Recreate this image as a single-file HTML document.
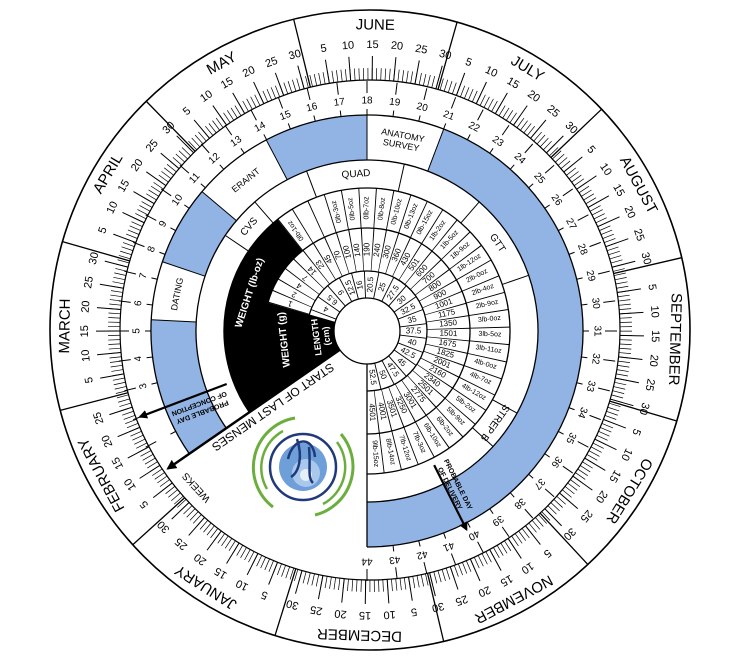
<!DOCTYPE html>
<html><head><meta charset="utf-8"><style>
html,body{margin:0;padding:0;background:#fff;}
svg{display:block;font-family:"Liberation Sans",sans-serif;}
.r{text-anchor:middle;dominant-baseline:central;font-size:8px;}
.w{text-anchor:middle;dominant-baseline:central;font-size:10px;}
.m{text-anchor:middle;dominant-baseline:central;font-size:15px;}
.dn{text-anchor:middle;dominant-baseline:central;font-size:11px;}
.t{text-anchor:middle;dominant-baseline:central;font-size:9px;}
</style></head><body>
<svg width="745" height="658" viewBox="0 0 745 658" xmlns="http://www.w3.org/2000/svg">
<defs>
<marker id="ah" viewBox="0 0 10 10" refX="8" refY="5" markerWidth="4" markerHeight="4" orient="auto"><path d="M0 0L10 5L0 10z" fill="#000"/></marker>
<g id="L5" stroke="#000" stroke-width="1">
<path d="M370 80V56" transform="rotate(3.945 370 330)"/>
<path d="M370 80V56" transform="rotate(8.877 370 330)"/>
<path d="M370 80V56" transform="rotate(13.808 370 330)"/>
<path d="M370 80V56" transform="rotate(18.74 370 330)"/>
<path d="M370 80V56" transform="rotate(23.671 370 330)"/>
</g>
<path id="L30" d="M370 80V56" stroke="#000" stroke-width="1" transform="rotate(28.603 370 330)"/>
<path id="DV" d="M370 80V10" stroke="#000" stroke-width="1.3" transform="rotate(-0.49 370 330)"/>
</defs>
<rect width="745" height="658" fill="#fff"/>
<!-- outer dial -->
<circle cx="370" cy="330" r="320" fill="#fff" stroke="#000" stroke-width="1.6"/>
<circle cx="370" cy="330" r="256" fill="none" stroke="#000" stroke-width="12" stroke-dasharray="0.7 3.7068" transform="rotate(-89.59 370 330)"/>
<circle cx="370" cy="330" r="250" fill="#fff" stroke="#000" stroke-width="1.2"/>

<g transform="rotate(-162.24 370 330)"><use href="#DV"/><use href="#L5"/><use href="#L30"/>
<text class="dn" x="370" y="45" transform="rotate(3.945 370 330)">5</text><text class="dn" x="370" y="45" transform="rotate(8.877 370 330)">10</text><text class="dn" x="370" y="45" transform="rotate(13.808 370 330)">15</text><text class="dn" x="370" y="45" transform="rotate(18.74 370 330)">20</text><text class="dn" x="370" y="45" transform="rotate(23.671 370 330)">25</text><text class="dn" x="370" y="45" transform="rotate(28.603 370 330)">30</text>
<text class="m" x="370" y="25" transform="rotate(14.79 370 330)">JANUARY</text></g>
<g transform="rotate(-131.66 370 330)"><use href="#DV"/><use href="#L5"/>
<text class="dn" x="370" y="45" transform="rotate(3.945 370 330)">5</text><text class="dn" x="370" y="45" transform="rotate(8.877 370 330)">10</text><text class="dn" x="370" y="45" transform="rotate(13.808 370 330)">15</text><text class="dn" x="370" y="45" transform="rotate(18.74 370 330)">20</text><text class="dn" x="370" y="45" transform="rotate(23.671 370 330)">25</text>
<text class="m" x="370" y="25" transform="rotate(13.32 370 330)">FEBRUARY</text></g>
<g transform="rotate(-104.05 370 330)"><use href="#DV"/><use href="#L5"/><use href="#L30"/>
<text class="dn" x="370" y="45" transform="rotate(3.945 370 330)">5</text><text class="dn" x="370" y="45" transform="rotate(8.877 370 330)">10</text><text class="dn" x="370" y="45" transform="rotate(13.808 370 330)">15</text><text class="dn" x="370" y="45" transform="rotate(18.74 370 330)">20</text><text class="dn" x="370" y="45" transform="rotate(23.671 370 330)">25</text><text class="dn" x="370" y="45" transform="rotate(28.603 370 330)">30</text>
<text class="m" x="370" y="25" transform="rotate(14.79 370 330)">MARCH</text></g>
<g transform="rotate(-73.47 370 330)"><use href="#DV"/><use href="#L5"/><use href="#L30"/>
<text class="dn" x="370" y="45" transform="rotate(3.945 370 330)">5</text><text class="dn" x="370" y="45" transform="rotate(8.877 370 330)">10</text><text class="dn" x="370" y="45" transform="rotate(13.808 370 330)">15</text><text class="dn" x="370" y="45" transform="rotate(18.74 370 330)">20</text><text class="dn" x="370" y="45" transform="rotate(23.671 370 330)">25</text><text class="dn" x="370" y="45" transform="rotate(28.603 370 330)">30</text>
<text class="m" x="370" y="25" transform="rotate(14.30 370 330)">APRIL</text></g>
<g transform="rotate(-43.88 370 330)"><use href="#DV"/><use href="#L5"/><use href="#L30"/>
<text class="dn" x="370" y="45" transform="rotate(3.945 370 330)">5</text><text class="dn" x="370" y="45" transform="rotate(8.877 370 330)">10</text><text class="dn" x="370" y="45" transform="rotate(13.808 370 330)">15</text><text class="dn" x="370" y="45" transform="rotate(18.74 370 330)">20</text><text class="dn" x="370" y="45" transform="rotate(23.671 370 330)">25</text><text class="dn" x="370" y="45" transform="rotate(28.603 370 330)">30</text>
<text class="m" x="370" y="25" transform="rotate(14.79 370 330)">MAY</text></g>
<g transform="rotate(-13.31 370 330)"><use href="#DV"/><use href="#L5"/><use href="#L30"/>
<text class="dn" x="370" y="45" transform="rotate(3.945 370 330)">5</text><text class="dn" x="370" y="45" transform="rotate(8.877 370 330)">10</text><text class="dn" x="370" y="45" transform="rotate(13.808 370 330)">15</text><text class="dn" x="370" y="45" transform="rotate(18.74 370 330)">20</text><text class="dn" x="370" y="45" transform="rotate(23.671 370 330)">25</text><text class="dn" x="370" y="45" transform="rotate(28.603 370 330)">30</text>
<text class="m" x="370" y="25" transform="rotate(14.30 370 330)">JUNE</text></g>
<g transform="rotate(16.28 370 330)"><use href="#DV"/><use href="#L5"/><use href="#L30"/>
<text class="dn" x="370" y="45" transform="rotate(3.945 370 330)">5</text><text class="dn" x="370" y="45" transform="rotate(8.877 370 330)">10</text><text class="dn" x="370" y="45" transform="rotate(13.808 370 330)">15</text><text class="dn" x="370" y="45" transform="rotate(18.74 370 330)">20</text><text class="dn" x="370" y="45" transform="rotate(23.671 370 330)">25</text><text class="dn" x="370" y="45" transform="rotate(28.603 370 330)">30</text>
<text class="m" x="370" y="25" transform="rotate(14.79 370 330)">JULY</text></g>
<g transform="rotate(46.86 370 330)"><use href="#DV"/><use href="#L5"/><use href="#L30"/>
<text class="dn" x="370" y="45" transform="rotate(3.945 370 330)">5</text><text class="dn" x="370" y="45" transform="rotate(8.877 370 330)">10</text><text class="dn" x="370" y="45" transform="rotate(13.808 370 330)">15</text><text class="dn" x="370" y="45" transform="rotate(18.74 370 330)">20</text><text class="dn" x="370" y="45" transform="rotate(23.671 370 330)">25</text><text class="dn" x="370" y="45" transform="rotate(28.603 370 330)">30</text>
<text class="m" x="370" y="25" transform="rotate(14.79 370 330)">AUGUST</text></g>
<g transform="rotate(77.43 370 330)"><use href="#DV"/><use href="#L5"/><use href="#L30"/>
<text class="dn" x="370" y="45" transform="rotate(3.945 370 330)">5</text><text class="dn" x="370" y="45" transform="rotate(8.877 370 330)">10</text><text class="dn" x="370" y="45" transform="rotate(13.808 370 330)">15</text><text class="dn" x="370" y="45" transform="rotate(18.74 370 330)">20</text><text class="dn" x="370" y="45" transform="rotate(23.671 370 330)">25</text><text class="dn" x="370" y="45" transform="rotate(28.603 370 330)">30</text>
<text class="m" x="370" y="25" transform="rotate(14.30 370 330)">SEPTEMBER</text></g>
<g transform="rotate(107.02 370 330)"><use href="#DV"/><use href="#L5"/><use href="#L30"/>
<text class="dn" x="370" y="45" transform="rotate(3.945 370 330)">5</text><text class="dn" x="370" y="45" transform="rotate(8.877 370 330)">10</text><text class="dn" x="370" y="45" transform="rotate(13.808 370 330)">15</text><text class="dn" x="370" y="45" transform="rotate(18.74 370 330)">20</text><text class="dn" x="370" y="45" transform="rotate(23.671 370 330)">25</text><text class="dn" x="370" y="45" transform="rotate(28.603 370 330)">30</text>
<text class="m" x="370" y="25" transform="rotate(14.79 370 330)">OCTOBER</text></g>
<g transform="rotate(137.60 370 330)"><use href="#DV"/><use href="#L5"/><use href="#L30"/>
<text class="dn" x="370" y="45" transform="rotate(3.945 370 330)">5</text><text class="dn" x="370" y="45" transform="rotate(8.877 370 330)">10</text><text class="dn" x="370" y="45" transform="rotate(13.808 370 330)">15</text><text class="dn" x="370" y="45" transform="rotate(18.74 370 330)">20</text><text class="dn" x="370" y="45" transform="rotate(23.671 370 330)">25</text><text class="dn" x="370" y="45" transform="rotate(28.603 370 330)">30</text>
<text class="m" x="370" y="25" transform="rotate(14.30 370 330)">NOVEMBER</text></g>
<g transform="rotate(167.18 370 330)"><use href="#DV"/><use href="#L5"/><use href="#L30"/>
<text class="dn" x="370" y="45" transform="rotate(3.945 370 330)">5</text><text class="dn" x="370" y="45" transform="rotate(8.877 370 330)">10</text><text class="dn" x="370" y="45" transform="rotate(13.808 370 330)">15</text><text class="dn" x="370" y="45" transform="rotate(18.74 370 330)">20</text><text class="dn" x="370" y="45" transform="rotate(23.671 370 330)">25</text><text class="dn" x="370" y="45" transform="rotate(28.603 370 330)">30</text>
<text class="m" x="370" y="25" transform="rotate(14.79 370 330)">DECEMBER</text></g>

<!-- inner disc: blue week ring -->
<g fill="none" stroke="#92b4e4" stroke-width="45">
<path d="M207.81 441.0 A193.5 193.5 0 0 1 173.77 320.88"/>
<path d="M183.72 268.96 A193.5 193.5 0 0 1 219.20 206.10"/>
<path d="M276.75 159.83 A193.5 193.5 0 0 1 367 137.5"/>
<path d="M435.71 150.12 A193.5 193.5 0 0 1 367 524.5"/>
</g>
<!-- black sector -->
<path d="M339.85 349.76 L249.35 412.30 A143 143 0 0 1 277.50 219.47 L302.53 250.67 A103 103 0 0 0 267.99 302.61 L335.28 321.91 A33 33 0 0 0 339.85 349.76 Z" fill="#000"/>
<!-- ring arcs -->
<g fill="none" stroke="#000" stroke-width="1.3">
<path d="M317.64 365.11 A60 60 0 1 1 367 391"/>
<path d="M282.26 389.56 A103 103 0 1 1 367 434"/>
<path d="M249.35 412.30 A143 143 0 1 1 367 474"/>
<path d="M226.32 428.21 A171 171 0 1 1 367 502"/>
<path d="M189.30 453.80 A216 216 0 1 1 367 547"/>
<line x1="367" y1="364" x2="367" y2="547"/>
</g>
<!-- column dividers grams & lb-oz -->
<path d="M288.66 308.54 A81.5 81.5 0 1 1 367 412.5" fill="none" stroke="#000" stroke-width="43" stroke-dasharray="0.8 9.228"/>
<path d="M290.01 235.07 A123 123 0 1 1 367 454" fill="none" stroke="#000" stroke-width="40" stroke-dasharray="0.9 14.235"/>
<!-- length dividers -->
<g stroke="#000" stroke-width="0.9">
<path d="M367 298V271" transform="rotate(-69 367 331)"/><path d="M367 298V271" transform="rotate(-55 367 331)"/><path d="M367 298V271" transform="rotate(-41 367 331)"/><path d="M367 298V271" transform="rotate(-27.5 367 331)"/><path d="M367 298V271" transform="rotate(-15 367 331)"/><path d="M367 298V271" transform="rotate(-2.5 367 331)"/><path d="M367 298V271" transform="rotate(11.5 367 331)"/><path d="M367 298V271" transform="rotate(26.5 367 331)"/><path d="M367 298V271" transform="rotate(41 367 331)"/><path d="M367 298V271" transform="rotate(55 367 331)"/><path d="M367 298V271" transform="rotate(69 367 331)"/><path d="M367 298V271" transform="rotate(83 367 331)"/><path d="M367 298V271" transform="rotate(97 367 331)"/><path d="M367 298V271" transform="rotate(111 367 331)"/><path d="M367 298V271" transform="rotate(125 367 331)"/><path d="M367 298V271" transform="rotate(139 367 331)"/><path d="M367 298V271" transform="rotate(153 367 331)"/><path d="M367 298V271" transform="rotate(166.5 367 331)"/>
</g>
<!-- test ring & week ring dividers -->
<g stroke="#000" stroke-width="1">
<path d="M367 188V160" transform="rotate(-56 367 331)"/><path d="M367 188V160" transform="rotate(-41 367 331)"/><path d="M367 188V160" transform="rotate(-20.7 367 331)"/><path d="M367 188V160" transform="rotate(12.6 367 331)"/><path d="M367 188V160" transform="rotate(41 367 331)"/><path d="M367 188V160" transform="rotate(71 367 331)"/><path d="M367 188V160" transform="rotate(118.7 367 331)"/><path d="M367 188V160" transform="rotate(132.5 367 331)"/>
<path d="M367 160V115" transform="rotate(-87 367 331)"/><path d="M367 160V115" transform="rotate(-71.3 367 331)"/><path d="M367 160V115" transform="rotate(-49.8 367 331)"/><path d="M367 160V115" transform="rotate(-27.8 367 331)"/><path d="M367 160V115" transform="rotate(0 367 331)"/><path d="M367 160V115" transform="rotate(20.8 367 331)"/>
</g>
<circle cx="367" cy="331" r="33" fill="#fff" stroke="#000" stroke-width="1.3"/>

<!-- length values -->
<g class="lv">
<text class="r" x="367" y="284.5" transform="rotate(-62 367 331) rotate(-90 367 284.5)">4</text>
<text class="r" x="367" y="284.5" transform="rotate(-48 367 331) rotate(-90 367 284.5)">6.5</text>
<text class="r" x="367" y="284.5" transform="rotate(-34 367 331) rotate(-90 367 284.5)">9</text>
<text class="r" x="367" y="284.5" transform="rotate(-21 367 331) rotate(-90 367 284.5)">12.5</text>
<text class="r" x="367" y="284.5" transform="rotate(-9 367 331) rotate(-90 367 284.5)">16</text>
<text class="r" x="367" y="284.5" transform="rotate(4 367 331) rotate(-90 367 284.5)">20.5</text>
<text class="r" x="367" y="284.5" transform="rotate(19 367 331) rotate(-90 367 284.5)">25</text>
<text class="r" x="367" y="284.5" transform="rotate(34 367 331) rotate(-90 367 284.5)">27.5</text>
<text class="r" x="367" y="284.5" transform="rotate(48 367 331) rotate(-90 367 284.5)">30</text>
<text class="r" x="367" y="284.5" transform="rotate(62 367 331) rotate(-90 367 284.5)">32.5</text>
<text class="r" x="367" y="284.5" transform="rotate(76 367 331) rotate(-90 367 284.5)">35</text>
<text class="r" x="367" y="284.5" transform="rotate(90 367 331) rotate(-90 367 284.5)">37.5</text>
<text class="r" x="367" y="284.5" transform="rotate(104 367 331) rotate(-90 367 284.5)">40</text>
<text class="r" x="367" y="284.5" transform="rotate(118 367 331) rotate(-90 367 284.5)">42.5</text>
<text class="r" x="367" y="284.5" transform="rotate(132 367 331) rotate(-90 367 284.5)">45</text>
<text class="r" x="367" y="284.5" transform="rotate(146 367 331) rotate(-90 367 284.5)">47.5</text>
<text class="r" x="367" y="284.5" transform="rotate(160 367 331) rotate(-90 367 284.5)">50</text>
<text class="r" x="367" y="284.5" transform="rotate(173 367 331) rotate(-90 367 284.5)">52.5</text>
</g>
<!-- grams -->
<g>
<text class="r" x="367" y="249.5" transform="rotate(-70.5 367 331) rotate(-90 367 249.5)">1</text>
<text class="r" x="367" y="249.5" transform="rotate(-63.4 367 331) rotate(-90 367 249.5)">2</text>
<text class="r" x="367" y="249.5" transform="rotate(-56.4 367 331) rotate(-90 367 249.5)">4</text>
<text class="r" x="367" y="249.5" transform="rotate(-49.3 367 331) rotate(-90 367 249.5)">7</text>
<text class="r" x="367" y="249.5" transform="rotate(-42.3 367 331) rotate(-90 367 249.5)">14</text>
<text class="r" x="367" y="249.5" transform="rotate(-35.2 367 331) rotate(-90 367 249.5)">23</text>
<text class="r" x="367" y="249.5" transform="rotate(-28.2 367 331) rotate(-90 367 249.5)">45</text>
<text class="r" x="367" y="249.5" transform="rotate(-21.1 367 331) rotate(-90 367 249.5)">70</text>
<text class="r" x="367" y="249.5" transform="rotate(-14.1 367 331) rotate(-90 367 249.5)">100</text>
<text class="r" x="367" y="249.5" transform="rotate(-7 367 331) rotate(-90 367 249.5)">140</text>
<text class="r" x="367" y="249.5" transform="rotate(0 367 331) rotate(-90 367 249.5)">190</text>
<text class="r" x="367" y="249.5" transform="rotate(7.1 367 331) rotate(-90 367 249.5)">240</text>
<text class="r" x="367" y="249.5" transform="rotate(14.1 367 331) rotate(-90 367 249.5)">300</text>
<text class="r" x="367" y="249.5" transform="rotate(21.2 367 331) rotate(-90 367 249.5)">360</text>
<text class="r" x="367" y="249.5" transform="rotate(28.2 367 331) rotate(-90 367 249.5)">430</text>
<text class="r" x="367" y="249.5" transform="rotate(35.3 367 331) rotate(-90 367 249.5)">501</text>
<text class="r" x="367" y="249.5" transform="rotate(42.3 367 331) rotate(-90 367 249.5)">600</text>
<text class="r" x="367" y="249.5" transform="rotate(49.4 367 331) rotate(-90 367 249.5)">700</text>
<text class="r" x="367" y="249.5" transform="rotate(56.4 367 331) rotate(-90 367 249.5)">800</text>
<text class="r" x="367" y="249.5" transform="rotate(63.5 367 331) rotate(-90 367 249.5)">900</text>
<text class="r" x="367" y="249.5" transform="rotate(70.5 367 331) rotate(-90 367 249.5)">1001</text>
<text class="r" x="367" y="249.5" transform="rotate(77.6 367 331) rotate(-90 367 249.5)">1175</text>
<text class="r" x="367" y="249.5" transform="rotate(84.6 367 331) rotate(-90 367 249.5)">1350</text>
<text class="r" x="367" y="249.5" transform="rotate(91.7 367 331) rotate(-90 367 249.5)">1501</text>
<text class="r" x="367" y="249.5" transform="rotate(98.7 367 331) rotate(-90 367 249.5)">1675</text>
<text class="r" x="367" y="249.5" transform="rotate(105.8 367 331) rotate(-90 367 249.5)">1825</text>
<text class="r" x="367" y="249.5" transform="rotate(112.8 367 331) rotate(-90 367 249.5)">2001</text>
<text class="r" x="367" y="249.5" transform="rotate(119.9 367 331) rotate(-90 367 249.5)">2160</text>
<text class="r" x="367" y="249.5" transform="rotate(126.9 367 331) rotate(-90 367 249.5)">2340</text>
<text class="r" x="367" y="249.5" transform="rotate(134 367 331) rotate(-90 367 249.5)">2501</text>
<text class="r" x="367" y="249.5" transform="rotate(141 367 331) rotate(-90 367 249.5)">2775</text>
<text class="r" x="367" y="249.5" transform="rotate(148.1 367 331) rotate(-90 367 249.5)">3001</text>
<text class="r" x="367" y="249.5" transform="rotate(155.1 367 331) rotate(-90 367 249.5)">3250</text>
<text class="r" x="367" y="249.5" transform="rotate(162.2 367 331) rotate(-90 367 249.5)">3501</text>
<text class="r" x="367" y="249.5" transform="rotate(169.2 367 331) rotate(-90 367 249.5)">4001</text>
<text class="r" x="367" y="249.5" transform="rotate(176.3 367 331) rotate(-90 367 249.5)">4501</text>
</g>
<!-- lb-oz -->
<g style="font-size:7px">
<text class="r" style="font-size:7px" x="367" y="208" transform="rotate(-35.2 367 331) rotate(-90 367 208)">0lb-1oz</text>
<text class="r" style="font-size:7px" x="367" y="208" transform="rotate(-14.1 367 331) rotate(-90 367 208)">0lb-3oz</text>
<text class="r" style="font-size:7px" x="367" y="208" transform="rotate(-7 367 331) rotate(-90 367 208)">0lb-5oz</text>
<text class="r" style="font-size:7px" x="367" y="208" transform="rotate(0 367 331) rotate(-90 367 208)">0lb-7oz</text>
<text class="r" style="font-size:7px" x="367" y="208" transform="rotate(7.1 367 331) rotate(-90 367 208)">0lb-8oz</text>
<text class="r" style="font-size:7px" x="367" y="208" transform="rotate(14.1 367 331) rotate(-90 367 208)">0lb-10oz</text>
<text class="r" style="font-size:7px" x="367" y="208" transform="rotate(21.2 367 331) rotate(-90 367 208)">0lb-13oz</text>
<text class="r" style="font-size:7px" x="367" y="208" transform="rotate(28.2 367 331) rotate(-90 367 208)">0lb-15oz</text>
<text class="r" style="font-size:7px" x="367" y="208" transform="rotate(35.3 367 331) rotate(-90 367 208)">1lb-2oz</text>
<text class="r" style="font-size:7px" x="367" y="208" transform="rotate(42.3 367 331) rotate(-90 367 208)">1lb-5oz</text>
<text class="r" style="font-size:7px" x="367" y="208" transform="rotate(49.4 367 331) rotate(-90 367 208)">1lb-9oz</text>
<text class="r" style="font-size:7px" x="367" y="208" transform="rotate(56.4 367 331) rotate(-90 367 208)">1lb-12oz</text>
<text class="r" style="font-size:7px" x="367" y="208" transform="rotate(63.5 367 331) rotate(-90 367 208)">2lb-0oz</text>
<text class="r" style="font-size:7px" x="367" y="208" transform="rotate(70.5 367 331) rotate(-90 367 208)">2lb-4oz</text>
<text class="r" style="font-size:7px" x="367" y="208" transform="rotate(77.6 367 331) rotate(-90 367 208)">2lb-9oz</text>
<text class="r" style="font-size:7px" x="367" y="208" transform="rotate(84.6 367 331) rotate(-90 367 208)">3lb-0oz</text>
<text class="r" style="font-size:7px" x="367" y="208" transform="rotate(91.7 367 331) rotate(-90 367 208)">3lb-5oz</text>
<text class="r" style="font-size:7px" x="367" y="208" transform="rotate(98.7 367 331) rotate(-90 367 208)">3lb-11oz</text>
<text class="r" style="font-size:7px" x="367" y="208" transform="rotate(105.8 367 331) rotate(-90 367 208)">4lb-0oz</text>
<text class="r" style="font-size:7px" x="367" y="208" transform="rotate(112.8 367 331) rotate(-90 367 208)">4lb-7oz</text>
<text class="r" style="font-size:7px" x="367" y="208" transform="rotate(119.9 367 331) rotate(-90 367 208)">4lb-12oz</text>
<text class="r" style="font-size:7px" x="367" y="208" transform="rotate(126.9 367 331) rotate(-90 367 208)">5lb-2oz</text>
<text class="r" style="font-size:7px" x="367" y="208" transform="rotate(134 367 331) rotate(-90 367 208)">5lb-9oz</text>
<text class="r" style="font-size:7px" x="367" y="208" transform="rotate(141 367 331) rotate(-90 367 208)">6lb-2oz</text>
<text class="r" style="font-size:7px" x="367" y="208" transform="rotate(148.1 367 331) rotate(-90 367 208)">6lb-10oz</text>
<text class="r" style="font-size:7px" x="367" y="208" transform="rotate(155.1 367 331) rotate(-90 367 208)">7lb-3oz</text>
<text class="r" style="font-size:7px" x="367" y="208" transform="rotate(162.2 367 331) rotate(-90 367 208)">7lb-12oz</text>
<text class="r" style="font-size:7px" x="367" y="208" transform="rotate(169.2 367 331) rotate(-90 367 208)">8lb-14oz</text>
<text class="r" style="font-size:7px" x="367" y="208" transform="rotate(176.3 367 331) rotate(-90 367 208)">9lb-15oz</text>
</g>
<!-- black sector labels -->
<g fill="#fff" font-weight="bold">
<text class="t" fill="#fff" style="font-size:10px" x="367" y="208" transform="rotate(-72 367 331)">WEIGHT (lb-oz)</text>
<text class="t" fill="#fff" style="font-size:10px" x="367" y="248" transform="rotate(-96 367 331)">WEIGHT (g)</text>
<text class="t" fill="#fff" style="font-size:9px" x="367" y="280" transform="rotate(-97 367 331)">LENGTH</text>
<text class="t" fill="#fff" style="font-size:9px" x="367" y="290" transform="rotate(-97 367 331)">(cm)</text>
</g>
<!-- test ring labels -->
<text class="t" style="font-size:10px" x="367" y="174" transform="rotate(-48.5 367 331)">CVS</text>
<text class="t" style="font-size:10px" x="367" y="174" transform="rotate(-4 367 331)">QUAD</text>
<text class="t" style="font-size:10px" x="367" y="174" transform="rotate(56 367 331)">GTT</text>
<text class="t" style="font-size:10px" x="367" y="174" transform="rotate(125.6 367 331)">STREP B</text>
<!-- week ring labels -->
<text class="t" x="367" y="137.5" transform="rotate(-79 367 331)">DATING</text>
<text class="t" x="367" y="137.5" transform="rotate(-38.8 367 331)">ERA/NT</text>
<text class="t" x="367" y="132" transform="rotate(10.4 367 331)">ANATOMY</text>
<text class="t" x="367" y="142" transform="rotate(10.4 367 331)">SURVEY</text>

<!-- weeks -->
<g stroke="#000" stroke-width="1" fill="none">
<path d="M367 81V93M367 109V115" transform="rotate(-117.69 367 331)"/>
<path d="M367 81V93M367 109V115" transform="rotate(-110.77 367 331)"/>
</g>
<g>
<g transform="rotate(-103.85 367 331)"><path d="M367 81V93M367 109V115" stroke="#000"/><text class="w" x="367" y="101">3</text></g>
<g transform="rotate(-96.92 367 331)"><path d="M367 81V93M367 109V115" stroke="#000"/><text class="w" x="367" y="101">4</text></g>
<g transform="rotate(-90 367 331)"><path d="M367 81V93M367 109V115" stroke="#000"/><text class="w" x="367" y="101">5</text></g>
<g transform="rotate(-83.08 367 331)"><path d="M367 81V93M367 109V115" stroke="#000"/><text class="w" x="367" y="101">6</text></g>
<g transform="rotate(-76.15 367 331)"><path d="M367 81V93M367 109V115" stroke="#000"/><text class="w" x="367" y="101">7</text></g>
<g transform="rotate(-69.23 367 331)"><path d="M367 81V93M367 109V115" stroke="#000"/><text class="w" x="367" y="101">8</text></g>
<g transform="rotate(-62.31 367 331)"><path d="M367 81V93M367 109V115" stroke="#000"/><text class="w" x="367" y="101">9</text></g>
<g transform="rotate(-55.38 367 331)"><path d="M367 81V93M367 109V115" stroke="#000"/><text class="w" x="367" y="101">10</text></g>
<g transform="rotate(-48.46 367 331)"><path d="M367 81V93M367 109V115" stroke="#000"/><text class="w" x="367" y="101">11</text></g>
<g transform="rotate(-41.54 367 331)"><path d="M367 81V93M367 109V115" stroke="#000"/><text class="w" x="367" y="101">12</text></g>
<g transform="rotate(-34.62 367 331)"><path d="M367 81V93M367 109V115" stroke="#000"/><text class="w" x="367" y="101">13</text></g>
<g transform="rotate(-27.69 367 331)"><path d="M367 81V93M367 109V115" stroke="#000"/><text class="w" x="367" y="101">14</text></g>
<g transform="rotate(-20.77 367 331)"><path d="M367 81V93M367 109V115" stroke="#000"/><text class="w" x="367" y="101">15</text></g>
<g transform="rotate(-13.85 367 331)"><path d="M367 81V93M367 109V115" stroke="#000"/><text class="w" x="367" y="101">16</text></g>
<g transform="rotate(-6.92 367 331)"><path d="M367 81V93M367 109V115" stroke="#000"/><text class="w" x="367" y="101">17</text></g>
<g transform="rotate(0 367 331)"><path d="M367 81V93M367 109V115" stroke="#000"/><text class="w" x="367" y="101">18</text></g>
<g transform="rotate(6.92 367 331)"><path d="M367 81V93M367 109V115" stroke="#000"/><text class="w" x="367" y="101">19</text></g>
<g transform="rotate(13.85 367 331)"><path d="M367 81V93M367 109V115" stroke="#000"/><text class="w" x="367" y="101">20</text></g>
<g transform="rotate(20.77 367 331)"><path d="M367 81V93M367 109V115" stroke="#000"/><text class="w" x="367" y="101">21</text></g>
<g transform="rotate(27.69 367 331)"><path d="M367 81V93M367 109V115" stroke="#000"/><text class="w" x="367" y="101">22</text></g>
<g transform="rotate(34.62 367 331)"><path d="M367 81V93M367 109V115" stroke="#000"/><text class="w" x="367" y="101">23</text></g>
<g transform="rotate(41.54 367 331)"><path d="M367 81V93M367 109V115" stroke="#000"/><text class="w" x="367" y="101">24</text></g>
<g transform="rotate(48.46 367 331)"><path d="M367 81V93M367 109V115" stroke="#000"/><text class="w" x="367" y="101">25</text></g>
<g transform="rotate(55.38 367 331)"><path d="M367 81V93M367 109V115" stroke="#000"/><text class="w" x="367" y="101">26</text></g>
<g transform="rotate(62.31 367 331)"><path d="M367 81V93M367 109V115" stroke="#000"/><text class="w" x="367" y="101">27</text></g>
<g transform="rotate(69.23 367 331)"><path d="M367 81V93M367 109V115" stroke="#000"/><text class="w" x="367" y="101">28</text></g>
<g transform="rotate(76.15 367 331)"><path d="M367 81V93M367 109V115" stroke="#000"/><text class="w" x="367" y="101">29</text></g>
<g transform="rotate(83.08 367 331)"><path d="M367 81V93M367 109V115" stroke="#000"/><text class="w" x="367" y="101">30</text></g>
<g transform="rotate(90 367 331)"><path d="M367 81V93M367 109V115" stroke="#000"/><text class="w" x="367" y="101">31</text></g>
<g transform="rotate(96.92 367 331)"><path d="M367 81V93M367 109V115" stroke="#000"/><text class="w" x="367" y="101">32</text></g>
<g transform="rotate(103.85 367 331)"><path d="M367 81V93M367 109V115" stroke="#000"/><text class="w" x="367" y="101">33</text></g>
<g transform="rotate(110.77 367 331)"><path d="M367 81V93M367 109V115" stroke="#000"/><text class="w" x="367" y="101">34</text></g>
<g transform="rotate(117.69 367 331)"><path d="M367 81V93M367 109V115" stroke="#000"/><text class="w" x="367" y="101">35</text></g>
<g transform="rotate(124.62 367 331)"><path d="M367 81V93M367 109V115" stroke="#000"/><text class="w" x="367" y="101">36</text></g>
<g transform="rotate(131.54 367 331)"><path d="M367 81V93M367 109V115" stroke="#000"/><text class="w" x="367" y="101">37</text></g>
<g transform="rotate(138.46 367 331)"><path d="M367 81V93M367 109V115" stroke="#000"/><text class="w" x="367" y="101">38</text></g>
<g transform="rotate(145.38 367 331)"><path d="M367 81V93M367 109V115" stroke="#000"/><text class="w" x="367" y="101">39</text></g>
<g transform="rotate(152.31 367 331)"><path d="M367 81V93M367 109V115" stroke="#000"/><text class="w" x="367" y="101">40</text></g>
<g transform="rotate(159.23 367 331)"><path d="M367 81V93M367 109V115" stroke="#000"/><text class="w" x="367" y="101">41</text></g>
<g transform="rotate(166.15 367 331)"><path d="M367 81V93M367 109V115" stroke="#000"/><text class="w" x="367" y="101">42</text></g>
<g transform="rotate(173.08 367 331)"><path d="M367 81V93M367 109V115" stroke="#000"/><text class="w" x="367" y="101">43</text></g>
<g transform="rotate(180 367 331)"><path d="M367 81V93" stroke="#000"/><text class="w" x="367" y="101">44</text></g>
</g>
<text class="w" x="367" y="100" transform="rotate(-132.5 367 331)">WEEKS</text>

<!-- arrows -->
<g stroke="#000" fill="none" marker-end="url(#ah)">
<line x1="339.85" y1="349.76" x2="168" y2="468.5" stroke-width="2.5"/>
<line x1="226.69" y1="384.0" x2="140" y2="416.8" stroke-width="2.2"/>
<line x1="434.17" y1="465.13" x2="466.5" y2="529.5" stroke-width="2.2"/>
</g>
<text class="t" style="font-size:12px" x="273" y="407" transform="rotate(-214.6 273 407)">START OF LAST MENSES</text>
<g font-weight="bold">
<text class="t" style="font-size:7px" x="200.4" y="402" transform="rotate(-200.7 200.4 406.9)">PROBABLE DAY</text>
<text class="t" style="font-size:7px" x="200.4" y="411" transform="rotate(-200.7 200.4 406.9)">OF CONCEPTION</text>
<text class="t" style="font-size:7px" x="453" y="482" transform="rotate(63.4 453 487)">PROBABLE DAY</text>
<text class="t" style="font-size:7px" x="453" y="491" transform="rotate(63.4 453 487)">OF DELIVERY</text>
</g>

<!-- logo -->
<g transform="translate(303 467)">
<path d="M-8 -49 A50 50 0 0 0 -30 40" fill="none" stroke="#6cae3e" stroke-width="3"/>
<path d="M12 48 A50 50 0 0 0 38 -33" fill="none" stroke="#6cae3e" stroke-width="3"/>
<path d="M-20 -36 A42 42 0 0 0 -36 22" fill="none" stroke="#6cae3e" stroke-width="2.5"/>
<path d="M20 37 A42 42 0 0 0 34 -25" fill="none" stroke="#6cae3e" stroke-width="2.5"/>
<circle r="33" fill="none" stroke="#1f3a7a" stroke-width="2.5"/>
<circle r="24" fill="#6e9fd8"/>
<circle cx="3" cy="6" r="14" fill="#a9c8ec"/>
<circle cx="3" cy="8" r="6" fill="#fff" opacity="0.7"/>
<path d="M-15 -8 C-10 -30 10 -32 12 -10 M-6 -28 C0 -10 -4 5 -12 10 M6 -20 C8 0 4 10 10 16" fill="none" stroke="#1f3a7a" stroke-width="2.5"/>
</g>
</svg>
</body></html>
